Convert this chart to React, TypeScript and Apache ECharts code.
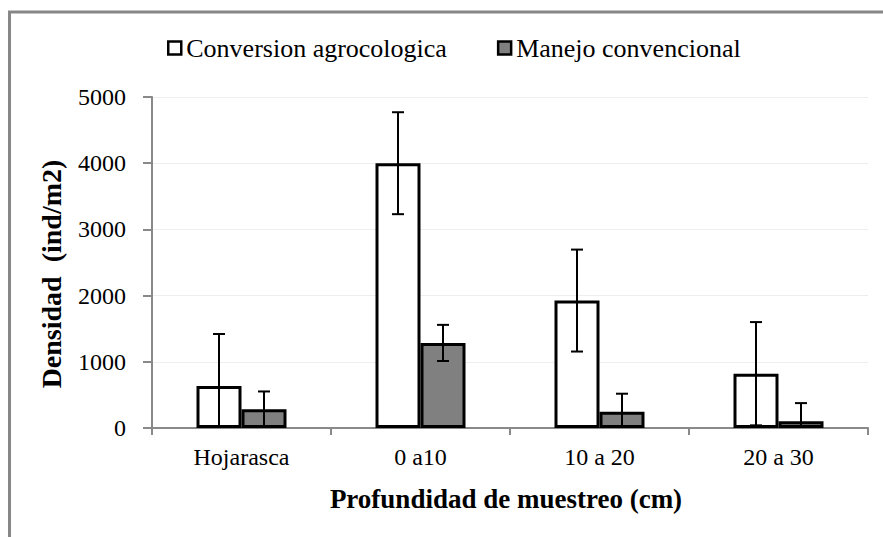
import React, { useEffect, useRef } from "react";
import * as echarts from "echarts";

const categories = ["Hojarasca", "0 a10", "10 a 20", "20 a 30"];
const conversion = [635, 4000, 1925, 820];
const conversionErr = [785, 770, 770, 780];
const manejo = [285, 1285, 245, 103];
const manejoErr = [267, 273, 273, 273];
const seriesNames = ["Conversion agrocologica", "Manejo convencional"];
const yTicks = { min: 0, max: 5000, interval: 1000 };

const FONT = "Liberation Serif";
const BAR_W = 45;
const AXIS_GRAY = "#898989";

export default function App() {
  const ref = useRef<HTMLDivElement>(null);
  useEffect(() => {
    if (!ref.current) return;
    const chart = echarts.init(ref.current, undefined, { renderer: "svg" });
    const errSeries = (vals: number[], errs: number[], sign: number, id: string) => ({
      type: "custom",
      name: id,
      z: 10,
      data: vals.map((v, i) => [i, v, errs[i]]),
      renderItem: (_p: any, api: any) => {
        const i = api.value(0);
        const v = api.value(1);
        const e = api.value(2);
        const top = api.coord([i, v + e]);
        const lowV = v - e;
        const low = api.coord([i, Math.max(lowV, 0)]);
        const x = top[0] + (sign * BAR_W) / 2;
        const st = { stroke: "#000", lineWidth: 2 };
        const children: any[] = [
          { type: "line", shape: { x1: x, y1: top[1], x2: x, y2: low[1] }, style: st },
          { type: "line", shape: { x1: x - 6, y1: top[1], x2: x + 6, y2: top[1] }, style: st },
        ];
        if (lowV >= 0) {
          children.push({ type: "line", shape: { x1: x - 6, y1: low[1], x2: x + 6, y2: low[1] }, style: st });
        }
        return { type: "group", children };
      },
    });
    chart.setOption({
      animation: false,
      backgroundColor: "#ffffff",
      textStyle: { fontFamily: FONT, color: "#000" },
      grid: { left: 152, right: 15, top: 97, bottom: 109 },
      legend: {
        data: seriesNames,
        left: 162,
        top: 30,
        icon: "rect",
        itemWidth: 13,
        itemHeight: 13,
        itemGap: 50,
        textStyle: { fontFamily: FONT, fontSize: 26, color: "#000" },
        itemStyle: { borderColor: "#000", borderWidth: 2.5 },
      },
      xAxis: {
        type: "category",
        data: categories,
        boundaryGap: true,
        axisLine: { show: true, lineStyle: { color: AXIS_GRAY, width: 2 } },
        axisTick: { show: true, length: 7, alignWithLabel: false, lineStyle: { color: AXIS_GRAY, width: 2 } },
        axisLabel: { fontFamily: FONT, fontSize: 24, color: "#000", margin: 17 },
        splitLine: { show: false },
      },
      yAxis: {
        type: "value",
        min: yTicks.min,
        max: yTicks.max,
        interval: yTicks.interval,
        axisLine: { show: true, lineStyle: { color: AXIS_GRAY, width: 2 } },
        axisTick: { show: true, length: 9, lineStyle: { color: AXIS_GRAY, width: 2 } },
        axisLabel: {
          fontFamily: FONT,
          fontSize: 24,
          color: "#000",
          margin: 26,
          formatter: (v: number) => String(v),
        },
        splitLine: { show: true, lineStyle: { color: "#eeeeee", width: 1 } },
      },
      graphic: [
        {
          type: "polyline",
          shape: { points: [[1200, 12], [9.5, 12], [9.5, 1200]] },
          style: { stroke: "#878787", lineWidth: 3, fill: "none" },
          silent: true,
        },
        {
          type: "text",
          x: 51,
          y: 274,
          rotation: Math.PI / 2,
          style: {
            text: "Densidad  (ind/m2)",
            fontFamily: FONT,
            fontSize: 28,
            fontWeight: "bold",
            fill: "#000",
            align: "center",
            verticalAlign: "middle",
          },
        },
        {
          type: "text",
          x: 506,
          y: 499,
          style: {
            text: "Profundidad de muestreo (cm)",
            fontFamily: FONT,
            fontSize: 27,
            fontWeight: "bold",
            fill: "#000",
            align: "center",
            verticalAlign: "middle",
          },
        },
      ],
      series: [
        {
          type: "bar",
          name: seriesNames[0],
          data: conversion,
          barWidth: BAR_W,
          barGap: "0%",
          itemStyle: { color: "#ffffff", borderColor: "#000", borderWidth: 3 },
        },
        {
          type: "bar",
          name: seriesNames[1],
          data: manejo,
          barWidth: BAR_W,
          barGap: "0%",
          itemStyle: { color: "#808080", borderColor: "#000", borderWidth: 3 },
        },
        errSeries(conversion, conversionErr, -1, "errA"),
        errSeries(manejo, manejoErr, 1, "errB"),
      ],
    });
    return () => chart.dispose();
  }, []);
  return (
    <div
      ref={ref}
      style={{ position: "fixed", left: 0, top: 0, width: 883, height: 537, background: "#fff" }}
    />
  );
}
